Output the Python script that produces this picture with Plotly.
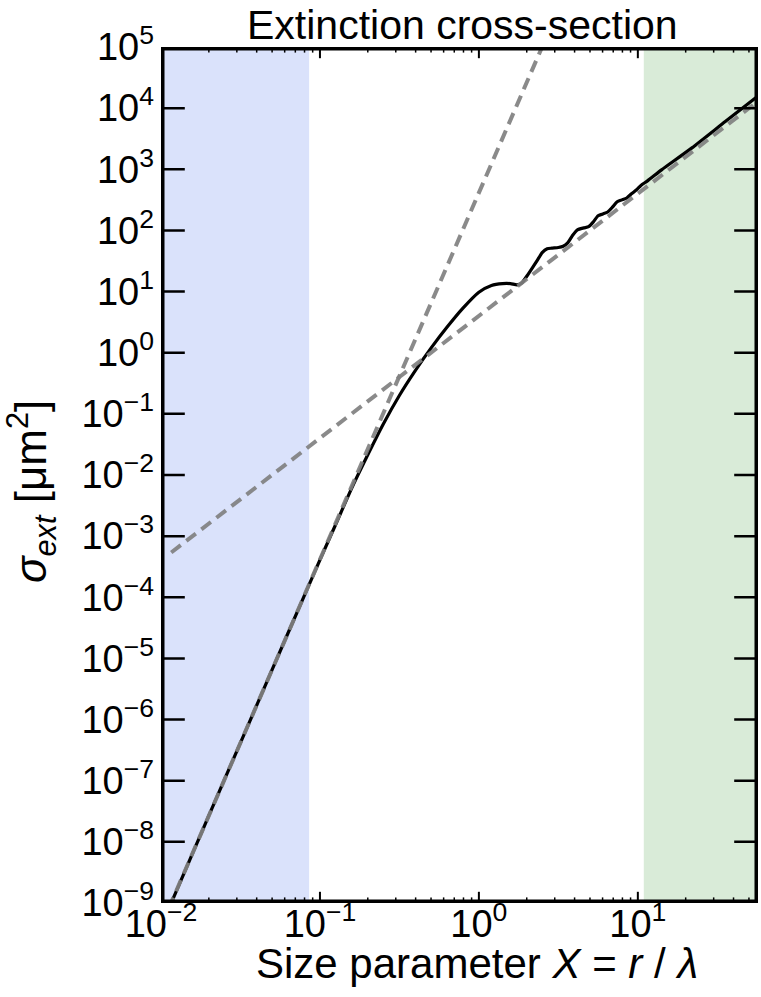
import plotly.graph_objects as go

# ---------------- data ----------------
mie_x = [0.0115, 0.01585, 0.0251, 0.0398, 0.0631, 0.1, 0.126, 0.158, 0.200, 0.251,
         0.316, 0.398, 0.501, 0.631, 0.794, 1.0, 1.20, 1.41, 1.58, 1.74,
         1.86, 2.0, 2.16, 2.34, 2.51, 2.69, 2.88, 3.16, 3.39, 3.63,
         3.89, 4.17, 4.57, 4.90, 5.25, 5.62, 6.03, 6.46, 6.92, 7.41,
         7.94, 8.51, 9.12, 9.77, 10.5, 11.5, 14.1, 21.9, 35.5, 57.0]
mie_sigma = [9.5e-10, 6.6e-9, 1.05e-7, 1.66e-6, 2.63e-5, 4.1e-4, 1.58e-3, 6.0e-3, 0.0214, 0.069,
             0.20, 0.51, 1.20, 2.63, 5.37, 9.77, 12.6, 13.5, 13.5, 12.9,
             13.8, 17.8, 24.0, 33.1, 43.7, 50.1, 51.3, 52.5, 55.0, 63.1,
             83.2, 102, 110, 115, 138, 174, 186, 200, 240, 295,
             316, 339, 398, 457, 550, 646, 977, 2240, 6030, 15800]

rayleigh_x = [0.01, 3.0]
rayleigh_sigma = [4.2e-10, 3.0e5]

geometric_x = [0.0116, 57.0]
geometric_sigma = [5.4e-4, 1.3e4]

rayleigh_band = [0.01, 0.0855]
geometric_band = [10.9, 57.0]

x_tickvals = [1e-2, 1e-1, 1e0, 1e1]
x_ticktext = ["10<sup>−2</sup>", "10<sup>−1</sup>", "10<sup>0</sup>", "10<sup>1</sup>"]
x_minor = [m * 10.0 ** e for e in (-2, -1, 0, 1) for m in range(2, 10)]
y_tickvals = [10.0 ** e for e in range(-9, 6)]
y_ticktext = [("10<sup>−%d</sup>" % -e) if e < 0 else ("10<sup>%d</sup>" % e) for e in range(-9, 6)]

X_RANGE = [-2, 1.756]
Y_RANGE = [-9, 5]

# ---------------- figure ----------------
FONT = "Liberation Sans, Arial, sans-serif"
XMIN, XMAX = 10.0 ** X_RANGE[0], 10.0 ** X_RANGE[1]
YMIN, YMAX = 10.0 ** Y_RANGE[0], 10.0 ** Y_RANGE[1]
x_minor_in = [v for v in x_minor if v <= XMAX]

fig = go.Figure()

fig.add_trace(go.Scatter(x=mie_x, y=mie_sigma, mode="lines",
                         line=dict(color="black", width=3.2, shape="spline", smoothing=0.6),
                         showlegend=False, hoverinfo="skip"))
fig.add_trace(go.Scatter(x=rayleigh_x, y=rayleigh_sigma, mode="lines",
                         line=dict(color="rgba(128,128,128,0.92)", width=4, dash="12px,7px"),
                         showlegend=False, hoverinfo="skip"))
fig.add_trace(go.Scatter(x=geometric_x, y=geometric_sigma, mode="lines",
                         line=dict(color="rgba(128,128,128,0.92)", width=4, dash="12px,7px"),
                         showlegend=False, hoverinfo="skip"))

# inside tick marks on all four sides (half of each marker is clipped by the plot area)
def tick_trace(xs, ys, symbol, size, width):
    return go.Scatter(x=xs, y=ys, mode="markers", cliponaxis=True, showlegend=False,
                      hoverinfo="skip",
                      marker=dict(symbol=symbol, size=size, color="black",
                                  line=dict(width=width, color="black")))

fig.add_trace(tick_trace([XMIN] * len(y_tickvals), y_tickvals, "line-ew", 34, 2.5))
fig.add_trace(tick_trace([XMAX] * len(y_tickvals), y_tickvals, "line-ew", 34, 2.5))
fig.add_trace(tick_trace(x_tickvals, [YMIN] * len(x_tickvals), "line-ns", 16, 2))
fig.add_trace(tick_trace(x_tickvals, [YMAX] * len(x_tickvals), "line-ns", 16, 2))
fig.add_trace(tick_trace(x_minor_in, [YMIN] * len(x_minor_in), "line-ns", 8, 1.5))
fig.add_trace(tick_trace(x_minor_in, [YMAX] * len(x_minor_in), "line-ns", 8, 1.5))

# frame along the axis ranges (lines are clipped at the plot edge, so width 6 -> 3 px visible)
fig.add_trace(go.Scatter(x=[XMIN, XMAX, XMAX, XMIN, XMIN], y=[YMIN, YMIN, YMAX, YMAX, YMIN],
                         mode="lines", line=dict(color="black", width=7),
                         showlegend=False, hoverinfo="skip"))

fig.update_layout(
    template="none",
    width=761, height=997,
    margin=dict(l=161, r=3, t=47, b=94, pad=0),
    plot_bgcolor="white", paper_bgcolor="white",
    font=dict(family=FONT, color="black"),
    hovermode=False,
    xaxis=dict(type="log", range=X_RANGE, showgrid=False, zeroline=False, automargin=False,
               showline=False, ticks="", tickmode="array", tickvals=x_tickvals,
               ticktext=x_ticktext, ticklabelstandoff=-5,
               tickfont=dict(family=FONT, size=38, color="black")),
    yaxis=dict(type="log", range=Y_RANGE, showgrid=False, zeroline=False, automargin=False,
               showline=False, ticks="", tickmode="array", tickvals=y_tickvals,
               ticktext=y_ticktext, ticklabelstandoff=6,
               tickfont=dict(family=FONT, size=38, color="black")),
    shapes=[
        dict(type="rect", xref="x", yref="paper", x0=rayleigh_band[0], x1=rayleigh_band[1],
             y0=0, y1=1, fillcolor="rgb(218,226,251)", line=dict(width=0), layer="below"),
        dict(type="rect", xref="x", yref="paper", x0=geometric_band[0], x1=geometric_band[1],
             y0=0, y1=1, fillcolor="rgb(217,235,216)", line=dict(width=0), layer="below"),
    ],
    annotations=[
        dict(text="Extinction cross-section", xref="paper", yref="paper",
             x=0.5055, y=1, xanchor="center", yanchor="bottom", yshift=-3,
             showarrow=False, font=dict(family=FONT, size=41, color="black")),
        dict(text="Size parameter <i>X</i> = <i>r</i> / <i>λ</i>", xref="paper", yref="paper",
             x=0.529, y=0, xanchor="center", yanchor="middle", yshift=-60,
             showarrow=False, font=dict(family=FONT, size=42, color="black")),
        dict(text="<i>σ</i><sub><i>ext</i></sub> [μm<sup>2</sup>]", xref="paper", yref="paper",
             x=0, y=0.48, xanchor="center", yanchor="middle", xshift=-130, textangle=-90,
             showarrow=False, font=dict(family=FONT, size=44, color="black")),
    ],
)

fig.write_html("out.html", config={"displayModeBar": False},
               post_script="document.body.style.margin='0';document.body.style.overflow='hidden';")
